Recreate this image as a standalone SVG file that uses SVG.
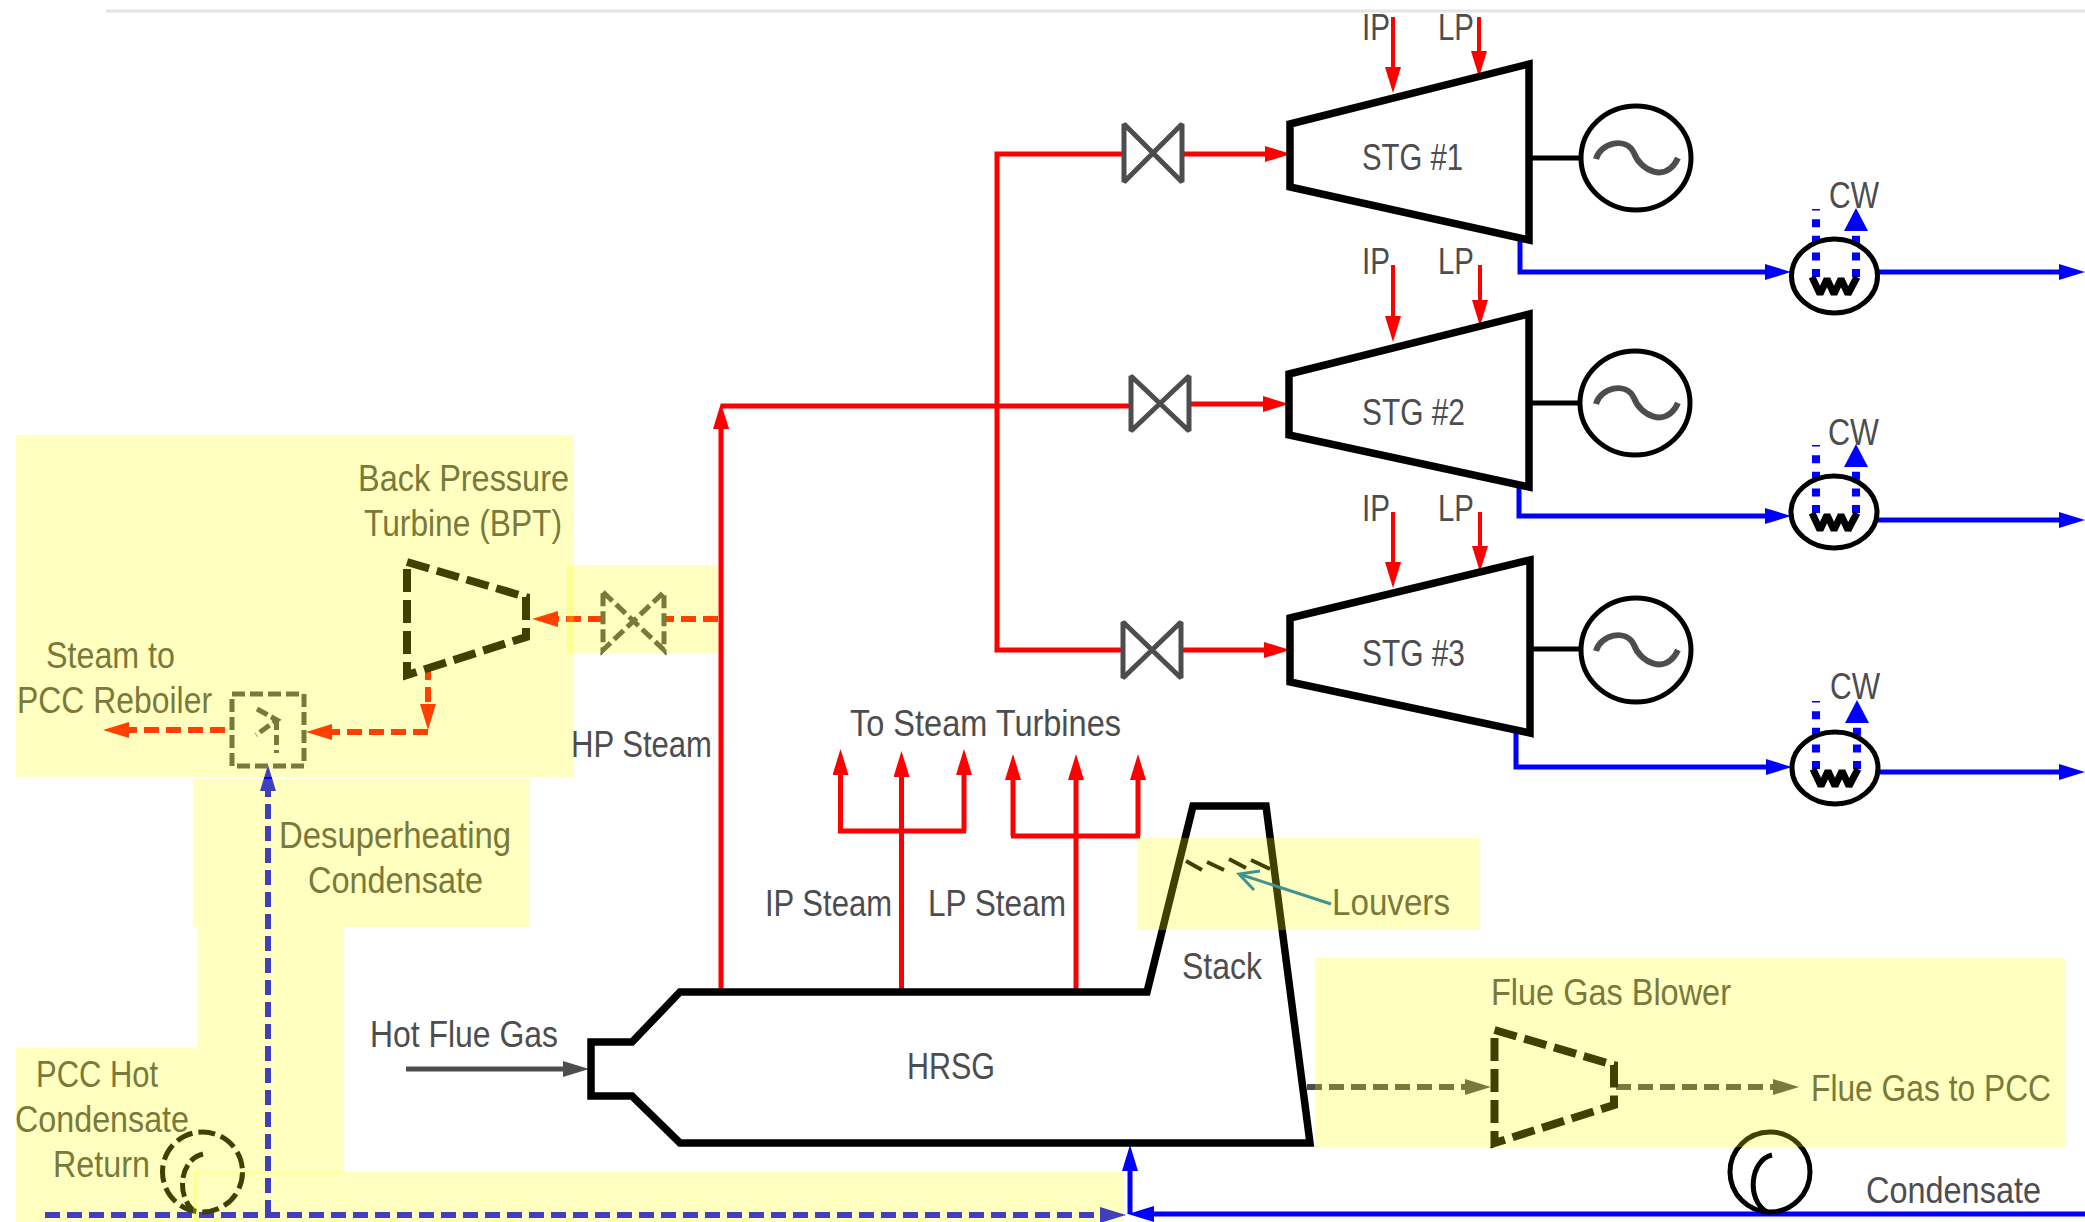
<svg xmlns="http://www.w3.org/2000/svg" width="2085" height="1222" viewBox="0 0 2085 1222">
<style>
text{font-family:"Liberation Sans",Arial,sans-serif;font-size:36px;fill:#4d4d4f}
.eq{fill:#fff;stroke:#000;stroke-width:7.500;stroke-linejoin:miter}
.bk{fill:none;stroke:#000;stroke-width:5}
.gy{fill:none;stroke:#4d4d4f;stroke-width:5}
.red{fill:none;stroke:#f00;stroke-width:5}
.red4{fill:none;stroke:#f00;stroke-width:4}
.blu{fill:none;stroke:#00f;stroke-width:5}
.dash{stroke-dasharray:15 7;stroke-width:6}
.dot{fill:none;stroke:#00f;stroke-width:8;stroke-dasharray:8 8.600}
.dt{fill:none;stroke:#000;stroke-width:8;stroke-dasharray:23 8}
.dg{fill:none;stroke:#4d4d4f;stroke-width:5;stroke-dasharray:13 5}
.vv{fill:none;stroke:#4d4d4f;stroke-width:5;stroke-linejoin:bevel}
.ww{fill:none;stroke:#000;stroke-width:7;stroke-linejoin:bevel}
.ov{fill:#ff0;fill-opacity:.25}
</style>
<defs>
<marker id="ar" markerUnits="userSpaceOnUse" markerWidth="26" markerHeight="16" refX="16" refY="8" orient="auto"><path d="M0 0L26 8L0 16z" fill="#f00"/></marker>
<marker id="ab" markerUnits="userSpaceOnUse" markerWidth="26" markerHeight="16" refX="16" refY="8" orient="auto"><path d="M0 0L26 8L0 16z" fill="#00f"/></marker>
<marker id="ag" markerUnits="userSpaceOnUse" markerWidth="26" markerHeight="16" refX="16" refY="8" orient="auto"><path d="M0 0L26 8L0 16z" fill="#4d4d4f"/></marker>
<marker id="ac" markerUnits="userSpaceOnUse" markerWidth="23" markerHeight="24" refX="13" refY="12" orient="auto"><path d="M0 0L23 12L0 24z" fill="#00f"/></marker>
<path id="sine" d="M1596 159C1600 143 1626 136 1634 153C1640 170 1666 184 1678 158" fill="none" stroke="#4d4d4f" stroke-width="6"/>
</defs>
<path d="M106 11H2085" stroke="#e4e4e4" stroke-width="3" fill="none"/>
<g id="connectors">
<path class="red" d="M721 992V413" marker-end="url(#ar)"/>
<path class="red" d="M721 406H1130"/>
<path class="red" d="M1123 154H997V650H1122"/>
<path class="red" d="M1183 154H1281" marker-end="url(#ar)"/>
<path class="red" d="M1190 404H1279" marker-end="url(#ar)"/>
<path class="red" d="M1182 650H1280" marker-end="url(#ar)"/>
<path class="red4" d="M1393 17V83" marker-end="url(#ar)"/>
<path class="red4" d="M1479 17V67" marker-end="url(#ar)"/>
<path class="red4" d="M1393 265V332" marker-end="url(#ar)"/>
<path class="red4" d="M1480 265V316" marker-end="url(#ar)"/>
<path class="red4" d="M1393 512V578" marker-end="url(#ar)"/>
<path class="red4" d="M1480 512V562" marker-end="url(#ar)"/>
<path class="red" d="M901.500 992V761" marker-end="url(#ar)"/>
<path class="red" d="M838 831H966"/>
<path class="red" d="M840.500 831V759" marker-end="url(#ar)"/>
<path class="red" d="M964 831V759" marker-end="url(#ar)"/>
<path class="red" d="M1076 992V764" marker-end="url(#ar)"/>
<path class="red" d="M1011 836H1140"/>
<path class="red" d="M1013 836V764" marker-end="url(#ar)"/>
<path class="red" d="M1138 836V764" marker-end="url(#ar)"/>
<path class="red dash" d="M718 619H664"/>
<path class="red dash" d="M603 619H542" marker-end="url(#ar)"/>
<path class="red dash" d="M428 665V720" marker-end="url(#ar)"/>
<path class="red dash" d="M428 732H316" marker-end="url(#ar)"/>
<path class="red dash" d="M225 730H113" marker-end="url(#ar)"/>
<path class="bk" d="M1529 158H1581M1529 403H1580M1530 649H1580"/>
<path class="blu" d="M1520 240V272H1781" marker-end="url(#ab)"/>
<path class="blu" d="M1878 272H2075" marker-end="url(#ab)"/>
<path class="blu" d="M1519 487V516H1781" marker-end="url(#ab)"/>
<path class="blu" d="M1876 520H2075" marker-end="url(#ab)"/>
<path class="blu" d="M1516 733V767H1782" marker-end="url(#ab)"/>
<path class="blu" d="M1877 772H2075" marker-end="url(#ab)"/>
<path class="gy" d="M406 1069H579" marker-end="url(#ag)"/>
<path class="gy dash" d="M1307 1087H1481" marker-end="url(#ag)"/>
<path class="gy dash" d="M1616 1087H1789" marker-end="url(#ag)"/>
<path class="blu" d="M2085 1214H1138" marker-end="url(#ab)"/>
<path class="blu" d="M1130 1214V1155" marker-end="url(#ab)"/>
<path class="blu dash" d="M45 1215H1116" marker-end="url(#ab)"/>
<path class="blu dash" d="M268 1215V775" marker-end="url(#ab)"/>
</g>
<g id="hrsg"><path class="eq" d="M680 992H1147L1193 806H1266L1310 1143H680L632 1096H591V1042H632Z"/>
<text x="907" y="1079" textLength="88" lengthAdjust="spacingAndGlyphs">HRSG</text>
<text x="1182" y="979" textLength="80" lengthAdjust="spacingAndGlyphs">Stack</text></g>
<g id="louvers"><path d="M1186 861L1202 870M1207 862L1224 870M1229 859L1246 868M1251 860L1270 869" fill="none" stroke="#000" stroke-width="4"/>
<path d="M1331 904L1239 874M1260 871L1239 874L1254 890" fill="none" stroke="#0070c0" stroke-width="3"/>
<text x="1332" y="915" textLength="118" lengthAdjust="spacingAndGlyphs">Louvers</text></g>
<g id="valve-1"><path class="vv" d="M1124 124L1182 182V124L1124 182Z"/></g>
<g id="valve-2"><path class="vv" d="M1131 376L1189 431V376L1131 431Z"/></g>
<g id="valve-3"><path class="vv" d="M1123 622L1181 678V622L1123 678Z"/></g>
<g id="valve-bpt"><path class="dg" d="M603 592L664 650V592L603 650Z"/></g>
<g id="stg-1"><path class="eq" d="M1290 124L1529 64V240L1290 187Z"/><text x="1362" y="170" textLength="101" lengthAdjust="spacingAndGlyphs">STG #1</text></g>
<g id="stg-2"><path class="eq" d="M1289 374L1529 314V487L1289 435Z"/><text x="1362" y="425" textLength="103" lengthAdjust="spacingAndGlyphs">STG #2</text></g>
<g id="stg-3"><path class="eq" d="M1290 618L1530 560V733L1290 682Z"/><text x="1362" y="666" textLength="103" lengthAdjust="spacingAndGlyphs">STG #3</text></g>
<g id="gen-1"><ellipse class="bk" cx="1636" cy="158" rx="55" ry="52"/><use href="#sine"/></g>
<g id="gen-2"><ellipse class="bk" cx="1635" cy="403" rx="55" ry="52"/><use href="#sine" y="245"/></g>
<g id="gen-3"><ellipse class="bk" cx="1636" cy="650" rx="55" ry="52"/><use href="#sine" y="492"/></g>
<g id="cond-1"><path class="dot" d="M1816 277V209"/><path class="dot" d="M1856 277V218" marker-end="url(#ac)"/><ellipse class="bk" cx="1834.500" cy="276" rx="43" ry="37"/><path class="ww" d="M1812 277L1820 294L1827 279L1834 294L1841 279L1848 294L1857 277"/><text x="1829" y="208" textLength="50" lengthAdjust="spacingAndGlyphs">CW</text></g>
<g id="cond-2"><path class="dot" d="M1816 513V445"/><path class="dot" d="M1856 513V454" marker-end="url(#ac)"/><ellipse class="bk" cx="1834" cy="512" rx="43" ry="36"/><path class="ww" d="M1812 513L1820 530L1827 515L1834 530L1841 515L1848 530L1857 513"/><text x="1828" y="445" textLength="51" lengthAdjust="spacingAndGlyphs">CW</text></g>
<g id="cond-3"><path class="dot" d="M1816 769V701"/><path class="dot" d="M1857 769V710" marker-end="url(#ac)"/><ellipse class="bk" cx="1835" cy="768" rx="43" ry="36"/><path class="ww" d="M1813 769L1821 786L1828 771L1835 786L1842 771L1849 786L1858 769"/><text x="1830" y="699" textLength="50" lengthAdjust="spacingAndGlyphs">CW</text></g>
<g id="bpt"><path class="dt" d="M407 562L526 597V637L407 675Z"/></g>
<g id="blower"><path class="dt" d="M1494.500 1030L1614 1065V1105L1494.500 1143Z"/></g>
<g id="desuperheater"><rect class="dg" x="232" y="694" width="72" height="72"/><path d="M257 709L277 720L256 735" fill="none" stroke="#4d4d4f" stroke-width="5" stroke-dasharray="12 4"/><path d="M276.500 720V753" fill="none" stroke="#4d4d4f" stroke-width="5" stroke-dasharray="10 5"/></g>
<g id="pump-hot"><ellipse cx="202.500" cy="1172" rx="40" ry="40" fill="none" stroke="#000" stroke-width="5" stroke-dasharray="17 6"/><path d="M203 1154C178 1160 176 1200 196 1212" fill="none" stroke="#000" stroke-width="5" stroke-dasharray="14 5"/></g>
<g id="pump-cond"><ellipse class="bk" cx="1770" cy="1172" rx="40" ry="40"/><path d="M1772 1155C1750 1160 1746 1200 1767 1212" class="bk"/></g>
<g id="labels">
<text x="1362" y="40" textLength="28" lengthAdjust="spacingAndGlyphs">IP</text>
<text x="1438" y="40" textLength="36" lengthAdjust="spacingAndGlyphs">LP</text>
<text x="1362" y="274" textLength="28" lengthAdjust="spacingAndGlyphs">IP</text>
<text x="1438" y="274" textLength="36" lengthAdjust="spacingAndGlyphs">LP</text>
<text x="1362" y="521" textLength="28" lengthAdjust="spacingAndGlyphs">IP</text>
<text x="1438" y="521" textLength="36" lengthAdjust="spacingAndGlyphs">LP</text>
<text x="850" y="736" textLength="271" lengthAdjust="spacingAndGlyphs">To Steam Turbines</text>
<text x="765" y="916" textLength="127" lengthAdjust="spacingAndGlyphs">IP Steam</text>
<text x="928" y="916" textLength="138" lengthAdjust="spacingAndGlyphs">LP Steam</text>
<text x="571" y="757" textLength="141" lengthAdjust="spacingAndGlyphs">HP Steam</text>
<text x="358" y="491" textLength="211" lengthAdjust="spacingAndGlyphs">Back Pressure</text>
<text x="364" y="536" textLength="198" lengthAdjust="spacingAndGlyphs">Turbine (BPT)</text>
<text x="46" y="668" textLength="129" lengthAdjust="spacingAndGlyphs">Steam to</text>
<text x="17" y="713" textLength="195" lengthAdjust="spacingAndGlyphs">PCC Reboiler</text>
<text x="279" y="848" textLength="232" lengthAdjust="spacingAndGlyphs">Desuperheating</text>
<text x="308" y="893" textLength="175" lengthAdjust="spacingAndGlyphs">Condensate</text>
<text x="36" y="1087" textLength="122" lengthAdjust="spacingAndGlyphs">PCC Hot</text>
<text x="15" y="1132" textLength="174" lengthAdjust="spacingAndGlyphs">Condensate</text>
<text x="53" y="1177" textLength="97" lengthAdjust="spacingAndGlyphs">Return</text>
<text x="370" y="1047" textLength="188" lengthAdjust="spacingAndGlyphs">Hot Flue Gas</text>
<text x="1491" y="1005" textLength="240" lengthAdjust="spacingAndGlyphs">Flue Gas Blower</text>
<text x="1811" y="1101" textLength="240" lengthAdjust="spacingAndGlyphs">Flue Gas to PCC</text>
<text x="1866" y="1203" textLength="175" lengthAdjust="spacingAndGlyphs">Condensate</text>
</g>
<g id="highlights">
<rect class="ov" x="16" y="435" width="558" height="342"/>
<rect class="ov" x="567" y="565" width="151" height="88"/>
<rect class="ov" x="193" y="779" width="337" height="148"/>
<rect class="ov" x="197" y="927" width="147" height="246"/>
<rect class="ov" x="16" y="1048" width="181" height="174"/>
<rect class="ov" x="193" y="1172" width="931" height="50"/>
<rect class="ov" x="1138" y="838" width="342" height="92"/>
<rect class="ov" x="1315" y="958" width="750" height="189"/>
</g>
</svg>
